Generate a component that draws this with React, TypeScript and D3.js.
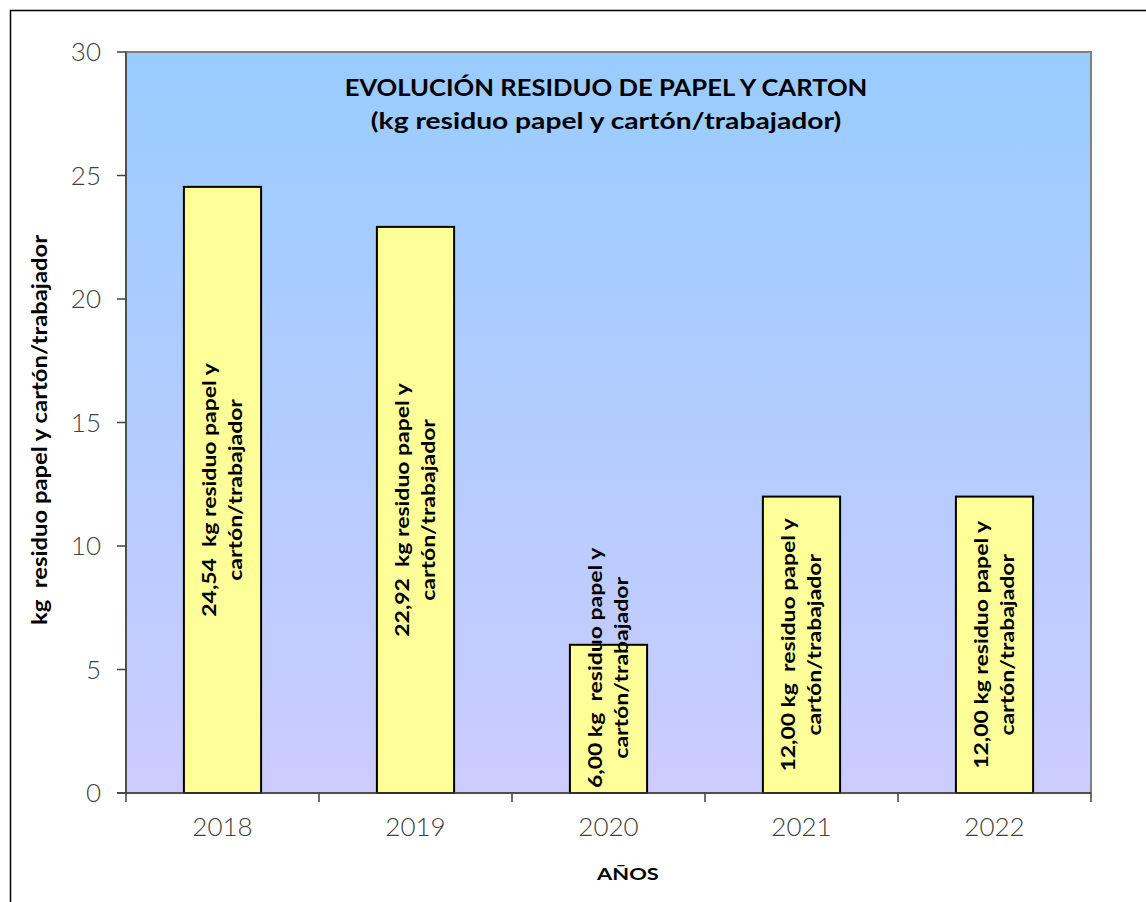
import React, { useEffect, useRef } from "react";
import * as d3 from "d3";

const years = ["2018", "2019", "2020", "2021", "2022"];
const values = [24.54, 22.92, 6.0, 12.0, 12.0];
const valueLabels = ["24,54  kg", "22,92  kg", "6,00 kg ", "12,00 kg ", "12,00 kg"];
const yTicks = [0, 5, 10, 15, 20, 25, 30];
const titleLines = ["EVOLUCIÓN RESIDUO DE PAPEL Y CARTON", "(kg residuo papel y cartón/trabajador)"];
const yAxisTitle = "kg  residuo papel y cartón/trabajador";
const xAxisTitle = "AÑOS";

const W = 1146;
const H = 902;
const plot = { left: 126, right: 1091, top: 52, bottom: 793 };
const FONT = "Lato, 'DejaVu Sans', sans-serif";

type TextSel = d3.Selection<SVGTextElement, unknown, null, undefined>;

// widen a text run horizontally to give the round, wide geometric look
function widen(sel: TextSel, factor: number) {
  const node = sel.node();
  if (!node) return 0;
  const len = node.getComputedTextLength() * factor;
  sel.attr("textLength", len).attr("lengthAdjust", "spacingAndGlyphs");
  return len;
}

export default function App() {
  const ref = useRef<SVGSVGElement | null>(null);

  useEffect(() => {
    const svg = d3.select(ref.current);
    svg.selectAll("*").remove();

    const x = d3.scaleBand<string>().domain(years).range([plot.left, plot.right]).paddingInner(0.6).paddingOuter(0.3);
    const xOuter = d3.scaleBand<string>().domain(years).range([plot.left, plot.right]);
    const y = d3.scaleLinear().domain([0, 30]).range([plot.bottom, plot.top]);

    const defs = svg.append("defs");
    const grad = defs.append("linearGradient").attr("id", "bg").attr("x1", 0).attr("y1", 0).attr("x2", 0).attr("y2", 1);
    grad.append("stop").attr("offset", "0%").attr("stop-color", "#99ccff");
    grad.append("stop").attr("offset", "100%").attr("stop-color", "#ccccff");

    // outer chart frame
    svg.append("rect").attr("x", 10.5).attr("y", 10.5).attr("width", W + 20).attr("height", H + 20)
      .attr("fill", "#fff").attr("stroke", "#000").attr("stroke-width", 1.5);

    // plot area
    svg.append("rect").attr("x", plot.left).attr("y", plot.top)
      .attr("width", plot.right - plot.left).attr("height", plot.bottom - plot.top)
      .attr("fill", "url(#bg)").attr("stroke", "#808080").attr("stroke-width", 2);

    // bars
    svg.append("g").selectAll("rect").data(values).join("rect")
      .attr("x", (_d, i) => x(years[i])!)
      .attr("y", (d) => y(d))
      .attr("width", x.bandwidth())
      .attr("height", (d) => y(0) - y(d))
      .attr("fill", "#ffff99").attr("stroke", "#000").attr("stroke-width", 2);

    // y axis
    const gy = svg.append("g");
    gy.append("line").attr("x1", plot.left).attr("x2", plot.left).attr("y1", plot.top).attr("y2", plot.bottom)
      .attr("stroke", "#404040").attr("stroke-width", 1.5);
    yTicks.forEach((t) => {
      gy.append("line").attr("x1", plot.left - 9).attr("x2", plot.left).attr("y1", y(t)).attr("y2", y(t))
        .attr("stroke", "#404040").attr("stroke-width", 1.5);
      gy.append("text").attr("x", 101).attr("y", y(t)).attr("dy", "0.36em").attr("text-anchor", "end")
        .attr("font-family", FONT).attr("font-size", 26).attr("fill", "#404040").attr("font-weight", 300).text(String(t));
    });

    // x axis
    const gx = svg.append("g");
    gx.append("line").attr("x1", plot.left - 9).attr("x2", plot.right).attr("y1", plot.bottom).attr("y2", plot.bottom)
      .attr("stroke", "#404040").attr("stroke-width", 1.5);
    [...years.map((d) => xOuter(d)!), plot.right].forEach((px) => {
      gx.append("line").attr("x1", px).attr("x2", px).attr("y1", plot.bottom).attr("y2", plot.bottom + 9)
        .attr("stroke", "#404040").attr("stroke-width", 1.5);
    });
    years.forEach((yr) => {
      gx.append("text").attr("x", xOuter(yr)! + xOuter.bandwidth() / 2).attr("y", 836)
        .attr("text-anchor", "middle").attr("font-family", FONT).attr("font-size", 26)
        .attr("fill", "#404040").attr("font-weight", 300).text(yr);
    });

    // bar labels, rotated, two lines
    values.forEach((v, i) => {
      const cx = x(years[i])! + x.bandwidth() / 2;
      const mid = (y(v) + y(0)) / 2;
      const g = svg.append("g");
      const lines = [`${valueLabels[i]} residuo papel y`, "cartón/trabajador"];
      const texts = lines.map((ln) =>
        g.append("text").attr("text-anchor", "middle").attr("font-family", FONT)
          .attr("font-size", 18.5).attr("font-weight", "bold").attr("fill", "#000")
          .style("white-space", "pre").text(ln) as unknown as TextSel
      );
      const lens = texts.map((t) => widen(t, 1.24));
      const maxLen = Math.max(...lens);
      const cy = Math.min(mid, plot.bottom - 5 - maxLen / 2);
      texts.forEach((t, k) => {
        const bx = cx - 7 + k * 26;
        t.attr("transform", `translate(${bx},${cy}) rotate(-90)`);
      });
    });

    // title
    const t1 = svg.append("text").attr("x", 606).attr("y", 96).attr("text-anchor", "middle")
      .attr("font-family", FONT).attr("font-size", 23.5).attr("font-weight", "bold").attr("fill", "#000")
      .text(titleLines[0]) as unknown as TextSel;
    widen(t1, 1.09);
    const t2 = svg.append("text").attr("x", 606).attr("y", 129).attr("text-anchor", "middle")
      .attr("font-family", FONT).attr("font-size", 23.5).attr("font-weight", "bold").attr("fill", "#000")
      .text(titleLines[1]) as unknown as TextSel;
    widen(t2, 1.2);

    // axis titles
    const yt = svg.append("text").attr("transform", `translate(47,430) rotate(-90)`).attr("text-anchor", "middle")
      .attr("font-family", FONT).attr("font-size", 20).attr("font-weight", "bold").attr("fill", "#000")
      .style("white-space", "pre").text(yAxisTitle) as unknown as TextSel;
    widen(yt, 1.19);
    const xt = svg.append("text").attr("x", 628).attr("y", 880).attr("text-anchor", "middle")
      .attr("font-family", FONT).attr("font-size", 17.5).attr("font-weight", "bold").attr("fill", "#000")
      .text(xAxisTitle) as unknown as TextSel;
    widen(xt, 1.25);
  }, []);

  return (
    <svg ref={ref} width={W} height={H} style={{ position: "absolute", left: 0, top: 0, display: "block" }} />
  );
}
